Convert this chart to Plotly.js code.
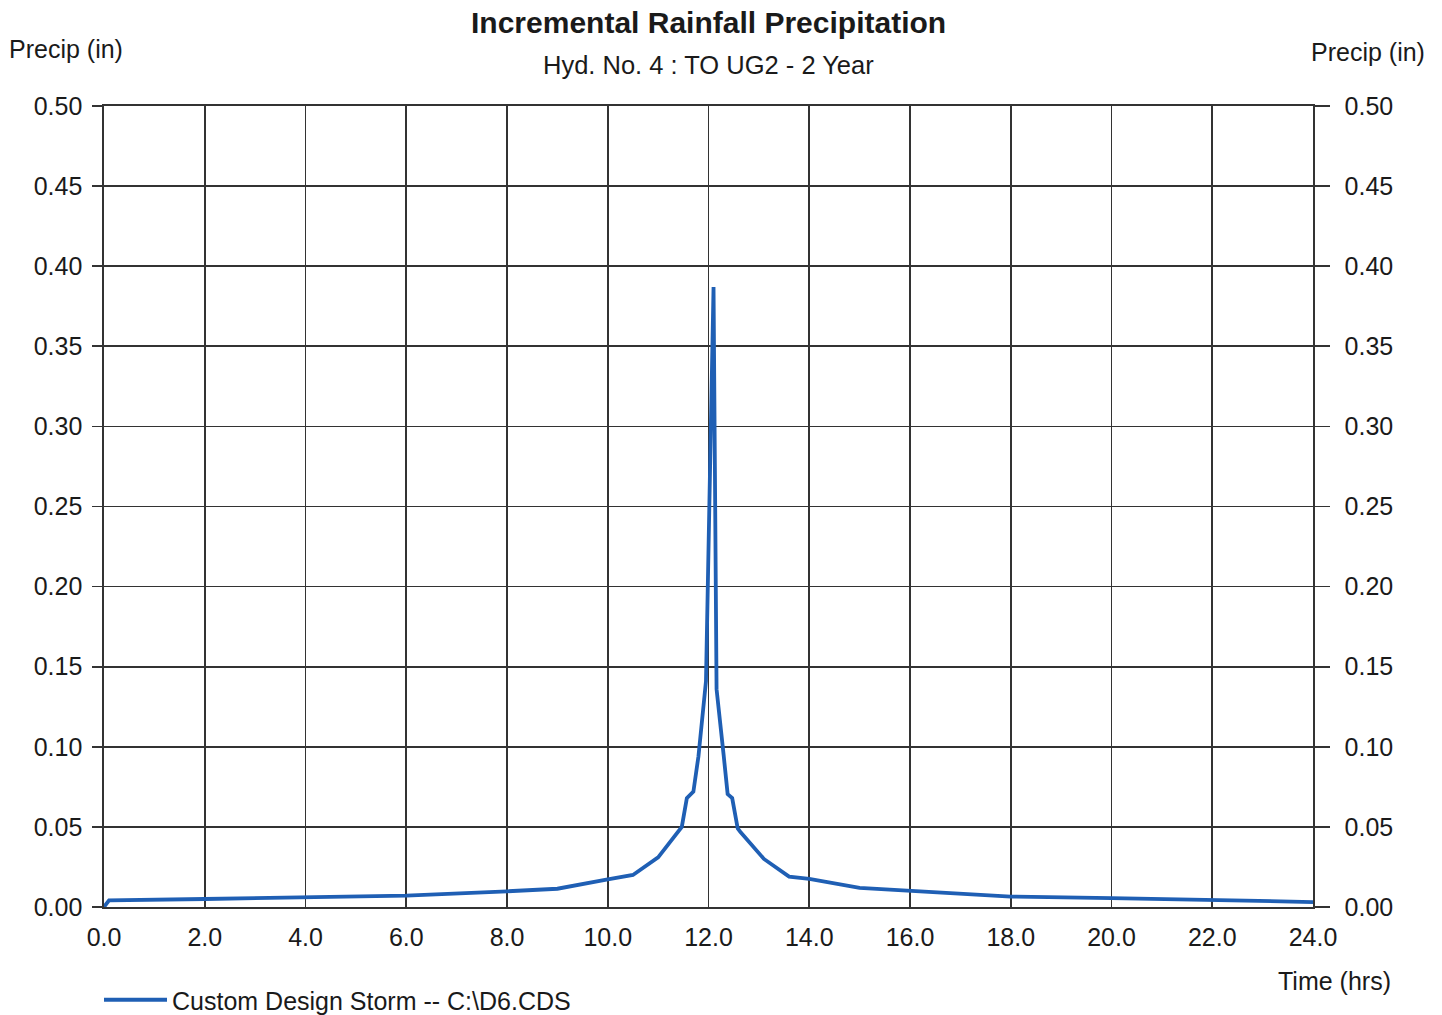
<!DOCTYPE html>
<html>
<head>
<meta charset="utf-8">
<script src="https://cdn.plot.ly/plotly-3.0.1.min.js"></script>
<style>
  html, body { margin: 0; padding: 0; background: #ffffff; }
  #chart { width: 1442px; height: 1015px; }
</style>
</head>
<body>
<div id="chart"></div>
<script>
// Time (hrs) and incremental precipitation (in)
const timeHrs = [0, 0.1, 2, 4, 6, 8, 9, 10, 10.5, 11, 11.4, 11.47, 11.57, 11.7, 11.8, 11.95,
                 12.1, 12.16, 12.3, 12.38, 12.47, 12.58, 12.63, 13.1, 13.6, 14, 15, 16, 18, 20, 22, 24];
const precipIn = [0, 0.0042, 0.005, 0.0062, 0.0071, 0.0098, 0.0114, 0.0173, 0.020, 0.031, 0.048, 0.050, 0.068, 0.072, 0.094, 0.141,
                  0.387, 0.136, 0.095, 0.0705, 0.068, 0.049, 0.047, 0.030, 0.019, 0.0175, 0.012, 0.010, 0.0065, 0.0056, 0.0046, 0.0031];
const seriesName = "Custom Design Storm -- C:\\D6.CDS";
const chartTitle = "Incremental Rainfall Precipitation";
const chartSubtitle = "Hyd. No. 4 : TO UG2 - 2 Year";
const yLabel = "Precip (in)";
const xLabel = "Time (hrs)";

const FONT = "Liberation Sans, Arial, sans-serif";
const TXT = "#1a1a1a";
const GRID = "#333333";
const LINE = "#1f5fb4";

const traces = [
  {
    x: timeHrs, y: precipIn, type: "scatter", mode: "lines",
    name: seriesName,
    line: { color: LINE, width: 3.8 },
    hoverinfo: "x+y"
  },
  {
    x: timeHrs, y: precipIn, type: "scatter", mode: "lines",
    yaxis: "y2", showlegend: false, hoverinfo: "skip",
    line: { color: "rgba(0,0,0,0)", width: 0 }
  }
];

const layout = {
  width: 1442, height: 1015,
  paper_bgcolor: "#ffffff", plot_bgcolor: "#ffffff",
  margin: { l: 104, r: 129, t: 106, b: 108, autoexpand: false },
  font: { family: FONT, color: TXT, size: 25 },
  showlegend: true,
  legend: {
    xref: "container", yref: "container",
    x: 99 / 1442, y: 1 - 1000 / 1015,
    xanchor: "left", yanchor: "middle",
    itemwidth: 63,
    font: { family: FONT, size: 25, color: TXT },
    bgcolor: "rgba(0,0,0,0)"
  },
  xaxis: {
    range: [0, 24], dtick: 2, tick0: 0, tickformat: ".1f",
    showgrid: true, gridcolor: GRID, gridwidth: 1.6,
    showline: true, linecolor: GRID, linewidth: 1.6, mirror: true,
    ticks: "", ticklabelstandoff: 7,
    tickfont: { family: FONT, size: 25, color: TXT },
    zeroline: false, fixedrange: true
  },
  yaxis: {
    range: [0, 0.5], dtick: 0.05, tick0: 0, tickformat: ".2f",
    showgrid: true, gridcolor: GRID, gridwidth: 1.6,
    showline: true, linecolor: GRID, linewidth: 1.6,
    ticks: "outside", ticklen: 10, tickcolor: GRID, tickwidth: 1.6,
    ticklabelstandoff: 5,
    tickfont: { family: FONT, size: 25, color: TXT },
    zeroline: false, fixedrange: true
  },
  yaxis2: {
    range: [0, 0.5], dtick: 0.05, tick0: 0, tickformat: ".2f",
    overlaying: "y", side: "right", showgrid: false,
    showline: true, linecolor: GRID, linewidth: 1.6,
    ticks: "outside", ticklen: 15, tickcolor: GRID, tickwidth: 1.6,
    ticklabelstandoff: 10,
    tickfont: { family: FONT, size: 25, color: TXT },
    zeroline: false, fixedrange: true
  },
  annotations: [
    { text: "<b>" + chartTitle + "</b>", xref: "paper", yref: "paper", x: 0.5, y: 1, yshift: 84,
      xanchor: "center", yanchor: "middle", showarrow: false, font: { family: FONT, size: 30, color: TXT } },
    { text: chartSubtitle, xref: "paper", yref: "paper", x: 0.5, y: 1, yshift: 41,
      xanchor: "center", yanchor: "middle", showarrow: false, font: { family: FONT, size: 25.5, color: TXT } },
    { text: yLabel, xref: "paper", yref: "paper", x: 0, y: 1, xshift: -97, yshift: 57,
      xanchor: "left", yanchor: "middle", showarrow: false, font: { family: FONT, size: 25, color: TXT } },
    { text: yLabel, xref: "paper", yref: "paper", x: 1, y: 1, xshift: 114, yshift: 54,
      xanchor: "right", yanchor: "middle", showarrow: false, font: { family: FONT, size: 25, color: TXT } },
    { text: xLabel, xref: "paper", yref: "paper", x: 1, y: 0, xshift: 80, yshift: -74,
      xanchor: "right", yanchor: "middle", showarrow: false, font: { family: FONT, size: 25, color: TXT } }
  ]
};

Plotly.newPlot("chart", traces, layout, { displayModeBar: false, staticPlot: true });
</script>
</body>
</html>
